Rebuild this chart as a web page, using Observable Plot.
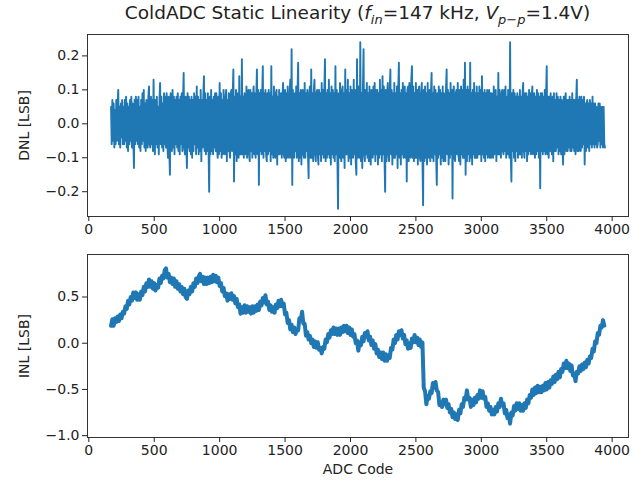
<!DOCTYPE html>
<html>
<head>
<meta charset="utf-8">
<script src="https://cdn.jsdelivr.net/npm/d3@7"></script>
<script src="https://cdn.jsdelivr.net/npm/@observablehq/plot@0.6"></script>
<style>
  html, body { margin: 0; padding: 0; background: #fff; }
  #wrap { position: relative; width: 632px; height: 480px; font-family: "DejaVu Sans", sans-serif; color: #222; }
  #title { position: absolute; z-index: 5; top: 4px; left: 87px; width: 541px; text-align: center; font-size: 18.5px; line-height: 1; white-space: nowrap; }
  #title sub { font-size: 70%; vertical-align: -0.35em; line-height: 0; }
  #p1 { position: absolute; left: 0; top: 0; z-index: 1; }
  #p2 { position: absolute; left: 0; top: 240px; z-index: 1; }
</style>
</head>
<body>
<div id="wrap">
  <div id="p1"></div>
  <div id="p2"></div>
  <div id="title">ColdADC Static Linearity (<i>f</i><sub><i>in</i></sub>=147 kHz, <i>V</i><sub><i>p</i>−<i>p</i></sub>=1.4V)</div>
</div>
<script>
// ---- data ----
const xTicks = [0, 500, 1000, 1500, 2000, 2500, 3000, 3500, 4000];
const dnlTicks = [-0.2, -0.1, 0.0, 0.1, 0.2];
const inlTicks = [-1.0, -0.5, 0.0, 0.5];

// DNL in hundredths of an LSB, one value every 5 codes starting at code 170
const dnlStartCode = 170, dnlStep = 5;
const dnlCenti = [
 5,-6,7,-5,6,-7,4,-6,7,-5,6,10,-6,5,-7,6,-4,7,-6,5,
 -6,7,-5,8,-7,6,-8,5,-6,7,-5,8,-7,6,-4,-13,7,-6,8,-5,
 7,-6,8,-7,5,-8,7,-6,9,-5,10,-7,6,-8,7,-5,-7,8,11,-6,
 -7,8,-6,7,-8,13,-5,-9,7,-6,8,-7,5,-9,7,12,-6,8,-7,6,
 -8,9,-6,8,-7,9,-5,-10,8,-7,-15,9,-6,-8,10,-7,8,-9,7,-6,
 8,-7,9,-8,7,-9,8,-6,9,-8,7,15,-7,-9,8,-6,-13,9,-7,8,
 -8,7,-9,8,-10,7,-8,9,-6,8,-9,11,-7,8,-9,7,-8,10,-11,7,
 -7,8,14,-8,9,-9,7,-8,9,-7,-20,8,-9,10,-8,7,-9,8,-7,9,
 -8,9,-7,-10,8,-9,12,-8,9,-10,7,-9,10,-8,-9,8,10,-11,7,-8,
 9,-8,-10,9,10,-8,9,16,-17,8,-9,10,-11,9,-8,-10,14,-9,8,-9,
 19,-9,8,-10,9,-8,-9,11,-10,9,10,-9,-11,10,-8,9,-10,8,11,-9,
 9,-10,8,16,-9,10,-18,9,-8,10,-9,8,17,-10,9,-8,10,-9,-11,9,
 -9,10,-8,9,-11,17,-9,8,-10,11,-8,-10,9,10,-12,8,-9,10,-9,8,
 9,-10,8,12,-9,-10,10,-11,9,-10,11,-9,-10,9,13,-10,22,-18,10,-9,
 -10,9,-8,11,-10,9,18,-11,9,-10,10,-12,9,10,-9,-10,12,-10,9,-8,
 10,-9,-16,9,11,-10,16,-10,9,-11,10,13,-9,-11,9,10,-9,-12,10,-9,
 9,-11,12,-9,10,-10,9,19,-11,9,-10,10,-9,13,-10,9,-12,11,-9,10,
 -10,9,-11,17,-9,10,-10,-25,9,-10,12,-9,-11,10,11,-10,9,-13,16,-9,
 10,-9,13,-11,9,-10,11,-12,10,-9,-10,13,-9,10,-11,-15,19,-10,11,-9,
 -10,24,-11,9,-13,10,22,-9,-11,10,-9,12,-10,9,-11,11,-9,-12,10,-9,
 -10,11,-9,12,-11,10,-9,10,-12,9,-10,13,-9,10,-11,14,-9,11,-10,-20,
 10,-11,9,12,-9,-11,10,16,-9,10,-12,9,-10,12,-10,9,-9,11,-13,10,
 18,-10,9,-12,10,-9,12,-10,-9,11,-10,9,-17,10,11,-11,12,-9,-10,13,
 17,-10,11,-11,9,-10,12,-10,10,-12,9,11,-10,-11,9,12,-10,-24,10,-11,
 11,-10,9,-12,12,-9,-10,10,-11,9,15,-10,9,-11,11,-9,10,-10,-18,9,
 -10,11,-9,10,-12,9,-10,11,-11,9,-9,-11,10,16,-9,10,-12,9,-10,12,
 -9,10,-22,9,11,-10,-11,9,10,-9,12,-9,-11,10,-12,11,-9,10,-10,13,
 -10,18,-15,10,-11,11,-9,10,-11,18,-10,9,-12,10,-9,12,-10,9,-10,11,
 -10,9,-9,11,-9,10,-11,14,-9,9,-10,10,-11,9,-9,10,-10,9,10,-10,
 9,-10,9,-8,-10,11,-9,8,10,-11,8,-9,15,-9,10,-8,-10,9,10,-8,
 -9,10,-8,11,-10,8,-9,10,-8,-10,24,-9,-17,9,-8,10,-10,9,-11,8,
 -8,9,-10,8,-9,10,-9,8,-10,9,12,-8,-10,9,-8,9,-11,8,-9,10,
 -8,9,-9,8,11,-9,-8,9,-10,8,-9,10,-8,9,-10,8,-19,9,-8,9,
 -9,8,-8,10,-9,8,17,-9,8,-10,8,-8,9,-7,-9,8,-11,9,-8,7,
 -8,9,-7,8,-9,7,-8,8,-9,7,-7,-12,8,-9,7,9,-8,7,-8,7,
 -7,8,-8,7,-8,9,-7,7,-8,7,-9,7,13,-8,7,-8,8,-7,-8,8,
 -7,7,-6,8,-12,6,-8,6,7,-7,6,-8,7,-6,6,-7,8,-6,6,-7,
 6,-6,5,-7,-6,6,-5,6,-7,5,-6,5,-7,5,-6,-7
];

// INL in hundredths of an LSB, one value every 10 codes starting at code 170
const inlStartCode = 170, inlStep = 10;
const inlCenti = [
 19,26,19,27,23,29,24,31,27,34,
 32,40,37,46,42,50,46,55,49,55,
 47,53,47,56,52,61,56,65,61,69,
 61,67,59,65,57,63,60,70,65,73,
 70,79,81,71,75,66,71,64,70,61,
 67,59,64,56,61,53,59,50,48,57,
 53,61,56,65,61,70,65,72,75,67,
 72,64,71,64,71,65,72,66,74,67,
 73,66,71,62,65,56,60,51,54,46,
 53,48,54,47,51,43,48,39,42,32,
 39,33,41,33,40,34,39,32,40,33,
 40,35,42,36,45,41,49,44,52,42,
 45,36,41,34,39,33,42,38,46,40,
 47,40,43,31,33,22,25,15,20,12,
 17,10,15,14,27,25,34,21,21,8,
 12,4,8,0,4,-4,2,-5,1,-7,
 -5,-11,-4,-6,4,1,10,6,14,10,
 17,10,16,9,16,9,17,12,19,13,
 19,11,17,9,15,7,10,0,3,-8,
 1,-2,7,2,11,7,13,3,7,-2,
 3,-6,-1,-11,-7,-15,-10,-17,-10,-19,
 -12,-19,-13,-16,-5,-7,4,0,9,4,
 13,9,14,5,9,-1,3,-6,0,-5,
 5,1,9,1,6,-2,4,-4,1,-48,
 -52,-66,-57,-60,-52,-54,-43,-48,-42,-51,
 -53,-67,-64,-69,-61,-66,-61,-70,-66,-75,
 -71,-80,-75,-82,-77,-83,-72,-76,-66,-69,
 -59,-61,-51,-61,-59,-69,-61,-67,-59,-64,
 -56,-60,-51,-59,-52,-60,-58,-69,-65,-73,
 -69,-77,-72,-77,-69,-74,-65,-69,-60,-67,
 -65,-76,-72,-81,-77,-87,-75,-78,-68,-73,
 -65,-71,-65,-73,-67,-73,-65,-70,-61,-65,
 -56,-59,-50,-56,-48,-54,-46,-53,-47,-53,
 -46,-51,-43,-50,-42,-48,-40,-44,-36,-42,
 -34,-39,-31,-37,-28,-31,-22,-27,-19,-27,
 -22,-30,-24,-35,-33,-41,-31,-33,-25,-30,
 -23,-28,-21,-26,-18,-22,-14,-16,-6,-9,
 2,0,11,9,19,17,25,19
];

// ---- tables for the library ----
const dnlRows = dnlCenti.map((v, i) => ({code: dnlStartCode + i * dnlStep, dnl: v / 100}));
const inlRows = inlCenti.map((v, i) => ({code: inlStartCode + i * inlStep, inl: v / 100}));

const blue = "#1f77b4";
const common = {
  width: 632,
  height: 240,
  marginLeft: 87,
  marginRight: 4,
  style: {fontFamily: "DejaVu Sans, sans-serif", fontSize: "14px", color: "#222", background: "#fff", overflow: "visible"},
};
const xScale = {domain: [-10, 4125]};

const p1 = Plot.plot({
  ...common,
  marginTop: 34,
  marginBottom: 24,
  x: xScale,
  y: {domain: [-0.273, 0.263]},
  marks: [
    Plot.line(dnlRows, {x: "code", y: "dnl", stroke: blue, strokeWidth: 1.9}),
    Plot.frame({stroke: "#333", strokeWidth: 1}),
    Plot.axisX({ticks: xTicks, tickFormat: "d", tickSize: 5, tickPadding: 3, label: null}),
    Plot.axisY({ticks: dnlTicks, tickFormat: ".1f", tickSize: 5, tickPadding: 3,
                label: "DNL [LSB]", labelAnchor: "center", labelArrow: "none", labelOffset: 68})
  ]
});

const p2 = Plot.plot({
  ...common,
  marginTop: 14,
  marginBottom: 43,
  x: xScale,
  y: {domain: [-1.02, 0.96]},
  marks: [
    Plot.line(inlRows, {x: "code", y: "inl", stroke: blue, strokeWidth: 4}),
    Plot.frame({stroke: "#333", strokeWidth: 1}),
    Plot.axisX({ticks: xTicks, tickFormat: "d", tickSize: 5, tickPadding: 3,
                label: "ADC Code", labelAnchor: "center", labelArrow: "none", labelOffset: 36}),
    Plot.axisY({ticks: inlTicks, tickFormat: ".1f", tickSize: 5, tickPadding: 3,
                label: "INL [LSB]", labelAnchor: "center", labelArrow: "none", labelOffset: 68})
  ]
});

document.getElementById("p1").appendChild(p1);
document.getElementById("p2").appendChild(p2);
</script>
</body>
</html>
